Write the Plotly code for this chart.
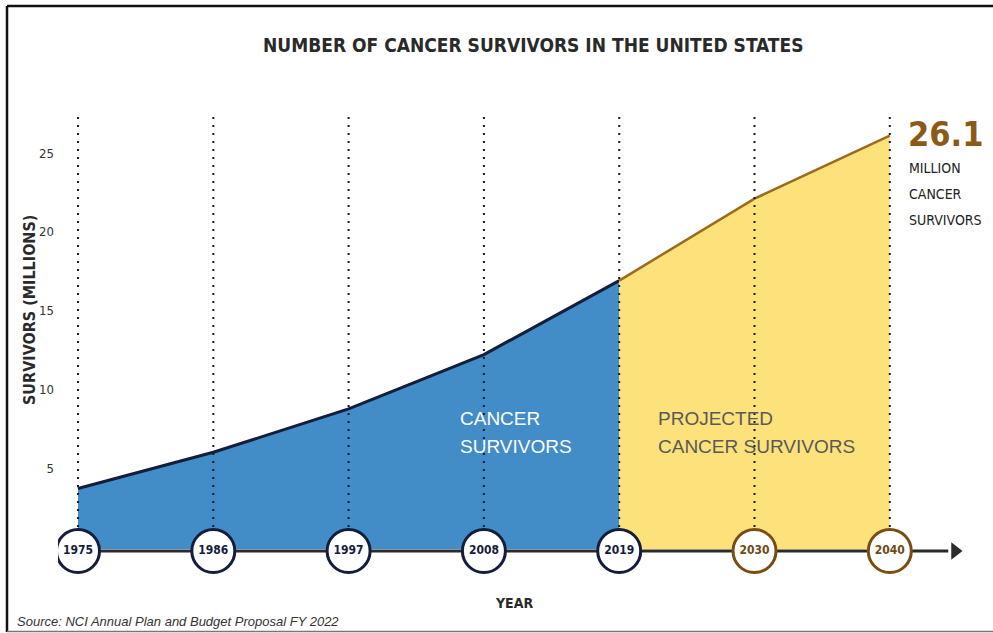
import plotly.graph_objects as go

# ---- data ----
years = ["1975", "1986", "1997", "2008", "2019", "2030", "2040"]
observed_years = ["1975", "1986", "1997", "2008", "2019"]
observed = [3.7, 6.0, 8.75, 12.2, 16.9]
projected_years = ["2019", "2030", "2040"]
projected = [16.9, 22.1, 26.1]
y_ticks = [5, 10, 15, 20, 25]

# ---- styling ----
W, H = 993, 633
ML = 58
BLUE = "#428cc8"
NAVY = "#141d3a"
YELLOW = "#fde17a"
BROWN = "#9a6a1e"
COND = "DejaVu Sans Condensed, Liberation Sans Narrow, Arial Narrow, sans-serif"
SANS = "Liberation Sans, Arial, sans-serif"

idx = {y: i for i, y in enumerate(years)}
xo = [idx[y] for y in observed_years]
xp = [idx[y] for y in projected_years]

# pixel <-> data mapping for axis ranges
X0_PX, DX_PX = 78, 135.3
Y0_PX, DY_PX = 546.75, 15.75
x_range = [(ML - X0_PX) / DX_PX, (W - X0_PX) / DX_PX]
y_range = [(Y0_PX - H) / DY_PX, Y0_PX / DY_PX]
base = (Y0_PX - 549) / DY_PX
axis_y = (Y0_PX - 551) / DY_PX
dot_top = (Y0_PX - 115) / DY_PX
arrow_x = (955 - X0_PX) / DX_PX


def px(xp_):
    return (xp_ - ML) / (W - ML)


def py(yp_):
    return 1 - yp_ / H


fig = go.Figure()

# observed area
fig.add_trace(go.Scatter(x=xo, y=[base] * len(xo), mode="lines",
                         line=dict(width=0), hoverinfo="skip", showlegend=False))
fig.add_trace(go.Scatter(x=xo, y=observed, mode="lines", fill="tonexty",
                         fillcolor=BLUE, line=dict(color=NAVY, width=3),
                         showlegend=False))
# projected area
fig.add_trace(go.Scatter(x=xp, y=[base] * len(xp), mode="lines",
                         line=dict(width=0), hoverinfo="skip", showlegend=False))
fig.add_trace(go.Scatter(x=xp, y=projected, mode="lines", fill="tonexty",
                         fillcolor=YELLOW, line=dict(color=BROWN, width=2.5),
                         showlegend=False))

# dotted verticals
dx, dy = [], []
for i in range(len(years)):
    dx += [i, i, None]
    dy += [axis_y, dot_top, None]
fig.add_trace(go.Scatter(x=dx, y=dy, mode="lines",
                         line=dict(color="#1a1a1a", width=2, dash="2px,6px"),
                         hoverinfo="skip", showlegend=False))

# timeline axis with arrow
fig.add_trace(go.Scatter(x=[0, arrow_x - 0.05], y=[axis_y, axis_y], mode="lines",
                         line=dict(color="#2b2b2b", width=3),
                         hoverinfo="skip", showlegend=False))
fig.add_trace(go.Scatter(x=[arrow_x], y=[axis_y], mode="markers",
                         marker=dict(symbol="triangle-right", size=15, color="#2b2b2b"),
                         hoverinfo="skip", showlegend=False))

# year circles
circ_line = [NAVY if y in observed_years else "#7a4c12" for y in years]
txt_col = [NAVY if y in observed_years else "#6e4a18" for y in years]
fig.add_trace(go.Scatter(x=list(range(len(years))), y=[axis_y] * len(years),
                         mode="markers+text", text=years,
                         textposition="middle center",
                         textfont=dict(family=COND, size=12, color=txt_col, weight="bold"),
                         marker=dict(size=43, color="white",
                                     line=dict(color=circ_line, width=3)),
                         hoverinfo="skip", showlegend=False))

ann = [
    dict(text="NUMBER OF CANCER SURVIVORS IN THE UNITED STATES",
         x=px(533), y=py(45), font=dict(family=COND, size=19, color="#2a2a2a", weight="bold")),
    dict(text="SURVIVORS (MILLIONS)", x=px(29), y=py(310), textangle=-90,
         font=dict(family=COND, size=16, color="#2a2a2a", weight="bold")),
    dict(text="YEAR", x=px(514), y=py(603),
         font=dict(family=COND, size=14, color="#2a2a2a", weight="bold")),
    dict(text="26.1", x=px(906), y=py(134), xanchor="left",
         font=dict(family=COND, size=34, color="#8a5a16", weight="bold")),
    dict(text="MILLION", x=px(907), y=py(168), xanchor="left",
         font=dict(family=COND, size=14, color="#222222")),
    dict(text="CANCER", x=px(907), y=py(194), xanchor="left",
         font=dict(family=COND, size=14, color="#222222")),
    dict(text="SURVIVORS", x=px(907), y=py(220), xanchor="left",
         font=dict(family=COND, size=14, color="#222222")),
    dict(text="CANCER", x=px(458), y=py(418), xanchor="left",
         font=dict(family=SANS, size=19, color="white")),
    dict(text="SURVIVORS", x=px(458), y=py(446), xanchor="left",
         font=dict(family=SANS, size=19, color="white")),
    dict(text="PROJECTED", x=px(656), y=py(418), xanchor="left",
         font=dict(family=SANS, size=19, color="#595959")),
    dict(text="CANCER SURVIVORS", x=px(656), y=py(446), xanchor="left",
         font=dict(family=SANS, size=19, color="#595959")),
    dict(text="<i>Source: NCI Annual Plan and Budget Proposal FY 2022</i>",
         x=px(15), y=py(621), xanchor="left",
         font=dict(family=SANS, size=13, color="#333333")),
]
for a in ann:
    a.setdefault("xanchor", "center")
    a.update(xref="paper", yref="paper", yanchor="middle", showarrow=False)

shapes = [
    dict(type="line", xref="paper", yref="paper", x0=px(7), x1=px(1000), y0=py(6), y1=py(6),
         line=dict(color="#111111", width=2.5)),
    dict(type="line", xref="paper", yref="paper", x0=px(7), x1=px(7), y0=py(6), y1=py(632),
         line=dict(color="#111111", width=2.5)),
    dict(type="line", xref="paper", yref="paper", x0=px(7), x1=px(1000), y0=py(631.5), y1=py(631.5),
         line=dict(color="#777777", width=1.5)),
]

fig.update_layout(
    width=W, height=H,
    margin=dict(l=ML, r=0, t=0, b=0),
    paper_bgcolor="white", plot_bgcolor="white",
    annotations=ann, shapes=shapes,
    xaxis=dict(range=x_range, visible=False, fixedrange=True),
    yaxis=dict(range=y_range, tickvals=y_ticks, ticktext=[str(v) for v in y_ticks],
               showgrid=False, zeroline=False, showline=False, ticks="",
               ticklabelstandoff=3,
               tickfont=dict(family=COND, size=13, color="#333333"), fixedrange=True),
    showlegend=False,
)

fig.write_html("out.html", config={"displayModeBar": False},
               post_script="document.body.style.margin='0px';document.body.style.overflow='hidden';")
